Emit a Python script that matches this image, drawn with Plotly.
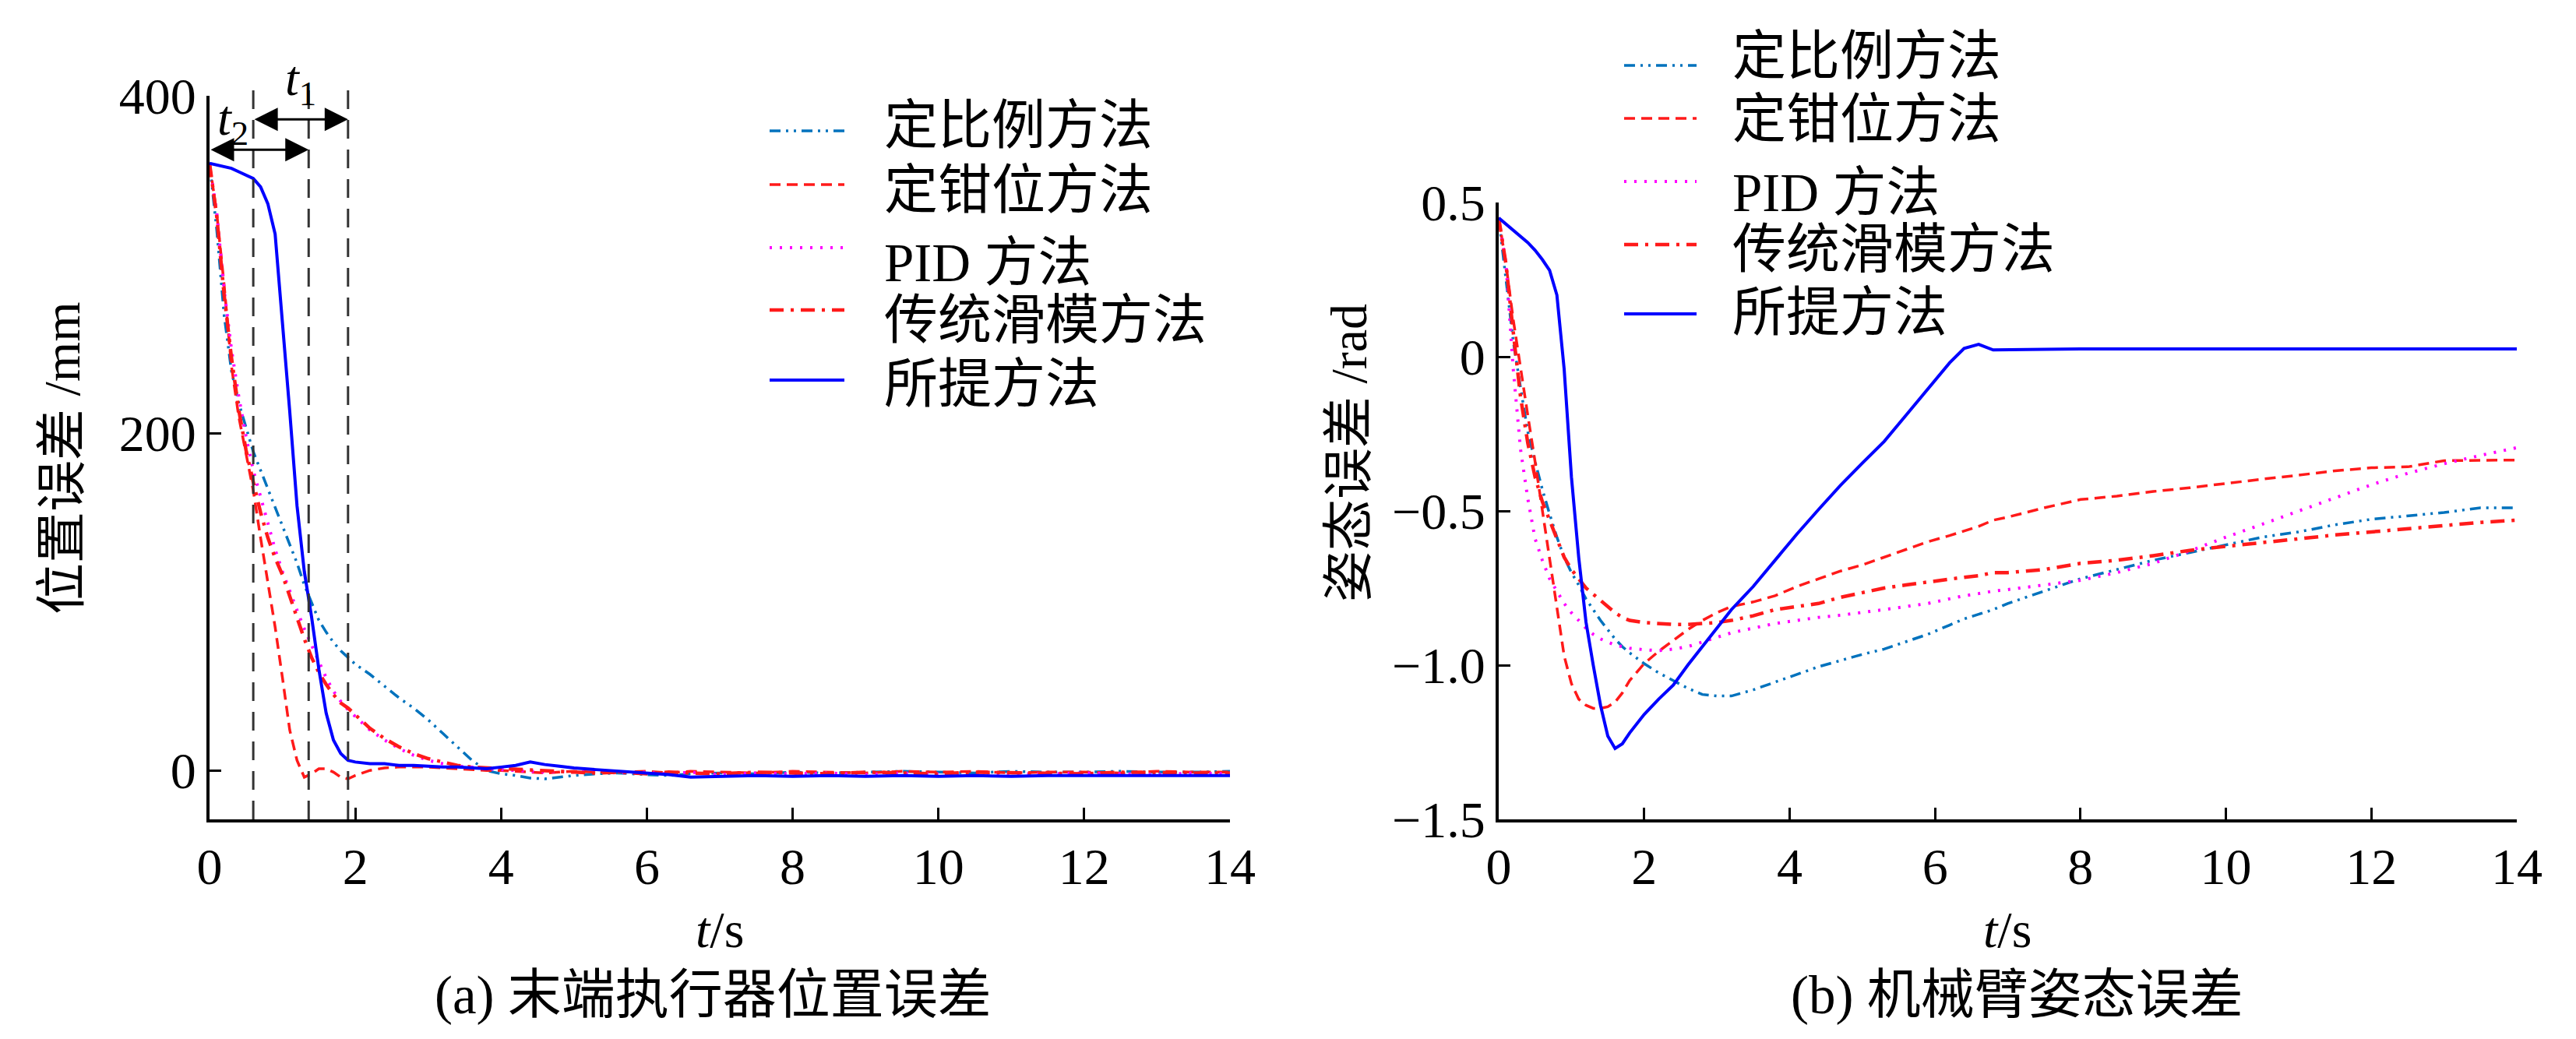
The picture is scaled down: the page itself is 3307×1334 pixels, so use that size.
import plotly.graph_objects as go

# ---- data ----
methods = ["定比例方法", "定钳位方法", "PID 方法", "传统滑模方法", "所提方法"]

# (a) end-effector position error, mm
pos_t = [0, 0.1, 0.2, 0.3, 0.4, 0.5, 0.6, 0.7, 0.8, 0.9, 1.0, 1.1, 1.2, 1.3, 1.4,
         1.5, 1.6, 1.7, 1.8, 1.9, 2.0, 2.2, 2.4, 2.6, 2.8, 3.0, 3.2, 3.4, 3.6, 3.8,
         4.0, 4.2, 4.4, 4.6, 4.8, 5.0, 5.3, 5.6, 6.0, 6.3, 6.6, 7.0, 7.5, 8.0, 8.5,
         9.0, 9.5, 10.0, 10.5, 11.0, 11.5, 12.0, 12.5, 13.0, 13.5, 14.0]
pos_ratio = [360, 320, 270, 237, 218, 203, 189, 178, 167, 156, 146, 135, 123, 110, 99,
             89, 82, 76, 71, 67, 63, 57, 50, 43, 37, 30, 22, 14, 6, 0,
             -2, -3, -4.5, -5, -4, -3, -2, -1.5, -2.5, -3, -2, -1.5, -2, -1, -1.5,
             -1, -0.5, -1, -1.5, -0.5, -1, -1, -0.5, -1, -1, -0.5]
pos_clamp = [360, 330, 288, 240, 210, 188, 166, 138, 111, 85, 55, 24, 6, -4, -2,
             1, 1, -1, -4, -5, -3, 0, 1.5, 2, 2, 2, 1.5, 1, 0.5, 0,
             0, -0.5, -1, -1.5, -1, -0.5, -1, -1, -0.5, -1.5, -0.5, -1, -1.5, -0.5, -1,
             -1.5, -0.5, -1, -0.5, -1.5, -1, -1, -1.5, -0.5, -1, -1]
pos_pid = [360, 330, 285, 250, 222, 198, 178, 162, 146, 131, 118, 106, 95, 84, 74,
           64, 55, 47, 41, 36, 32, 24, 18, 13, 9, 6, 4, 2.5, 2, 1,
           0.5, 0, -0.5, -1, -0.5, -1, -0.5, -1.5, -1, -2, -1, -2.5, -1.5, -2, -1.5,
           -2.5, -1.5, -2, -1.5, -2, -2, -1.5, -2, -2.5, -1.5, -2]
pos_smc = [360, 328, 282, 245, 214, 190, 171, 153, 138, 126, 116, 103, 90, 78, 67,
           58, 51, 45, 40, 37, 33, 25, 19, 14, 10, 7, 5, 3, 2, 1.5,
           1, 0.5, 0, -0.5, -1, -1, -1.5, -1, -2, -1, -1.5, -2, -1, -1.5, -2,
           -1, -1.5, -2, -1, -1.5, -1.5, -2, -1, -1.5, -1.5, -1.5]
pos_prop = [360, 359, 358, 357, 355, 353, 351, 346, 336, 318, 268, 213, 157, 118, 91,
            60, 34, 18, 10, 6, 5, 4, 4, 3, 3, 2.5, 2, 2, 1.5, 1,
            2, 3, 5, 3.5, 2.5, 1.5, 0.5, -0.5, -1.5, -2.5, -4, -3.5, -3, -3.5, -3,
            -3.5, -3, -3.5, -3, -3.5, -3, -3, -3, -3, -3, -3]

# t1 / t2 marker times (s)
marker_t = [0.60, 1.36, 1.90]

# (b) arm attitude error, rad
att_t = [0, 0.1, 0.2, 0.3, 0.4, 0.5, 0.6, 0.7, 0.8, 0.9, 1.0, 1.1, 1.2, 1.3, 1.4,
         1.5, 1.6, 1.7, 1.8, 2.0, 2.2, 2.4, 2.6, 2.8, 3.0, 3.2, 3.5, 3.8, 4.1, 4.4,
         4.7, 5.0, 5.3, 5.6, 5.9, 6.2, 6.4, 6.6, 6.8, 7.0, 7.5, 8.0, 8.5, 9.0, 9.5,
         10.0, 10.5, 11.0, 11.5, 12.0, 12.5, 13.0, 13.5, 14.0]
att_ratio = [0.45, 0.25, 0.05, -0.10, -0.243, -0.34, -0.43, -0.51, -0.585, -0.65, -0.70,
             -0.74, -0.785, -0.82, -0.855, -0.885, -0.915, -0.94, -0.96, -0.995, -1.025,
             -1.05, -1.075, -1.095, -1.10, -1.10, -1.08, -1.055, -1.03, -1.005, -0.985,
             -0.965, -0.948, -0.925, -0.90, -0.87, -0.85, -0.835, -0.82, -0.80, -0.76,
             -0.72, -0.69, -0.66, -0.635, -0.61, -0.585, -0.568, -0.545, -0.527, -0.515,
             -0.505, -0.49, -0.49]
att_clamp = [0.45, 0.30, 0.12, -0.04, -0.19, -0.34, -0.50, -0.66, -0.82, -0.97, -1.06,
             -1.11, -1.13, -1.14, -1.14, -1.135, -1.12, -1.09, -1.05, -0.995, -0.955,
             -0.92, -0.885, -0.855, -0.83, -0.81, -0.795, -0.775, -0.745, -0.72, -0.695,
             -0.675, -0.65, -0.625, -0.60, -0.58, -0.565, -0.55, -0.53, -0.52, -0.49,
             -0.463, -0.452, -0.437, -0.425, -0.41, -0.397, -0.384, -0.37, -0.36, -0.357,
             -0.337, -0.335, -0.335]
att_pid = [0.45, 0.30, -0.04, -0.30, -0.46, -0.59, -0.66, -0.72, -0.76, -0.80, -0.83,
           -0.855, -0.88, -0.90, -0.915, -0.925, -0.935, -0.94, -0.945, -0.95, -0.953,
           -0.948, -0.94, -0.925, -0.91, -0.895, -0.88, -0.865, -0.855, -0.845, -0.838,
           -0.83, -0.82, -0.81, -0.80, -0.785, -0.775, -0.768, -0.76, -0.755, -0.74,
           -0.725, -0.70, -0.67, -0.63, -0.585, -0.543, -0.50, -0.456, -0.415, -0.378,
           -0.347, -0.32, -0.295]
att_smc = [0.45, 0.30, 0.08, -0.13, -0.28, -0.39, -0.47, -0.53, -0.59, -0.65, -0.69,
           -0.72, -0.75, -0.77, -0.79, -0.81, -0.83, -0.845, -0.855, -0.862, -0.866,
           -0.868, -0.868, -0.866, -0.862, -0.855, -0.84, -0.82, -0.81, -0.80, -0.78,
           -0.765, -0.75, -0.74, -0.73, -0.72, -0.715, -0.71, -0.70, -0.70, -0.69,
           -0.67, -0.66, -0.645, -0.628, -0.615, -0.602, -0.59, -0.578, -0.568, -0.558,
           -0.547, -0.537, -0.53]
att_prop = [0.45, 0.43, 0.41, 0.39, 0.37, 0.345, 0.315, 0.28, 0.20, -0.04, -0.39,
            -0.65, -0.86, -1.00, -1.13, -1.23, -1.27, -1.255, -1.22, -1.16, -1.11,
            -1.065, -1.00, -0.94, -0.88, -0.82, -0.745, -0.66, -0.575, -0.495, -0.417,
            -0.345, -0.275, -0.19, -0.105, -0.02, 0.027, 0.04, 0.022, 0.022, 0.024,
            0.025, 0.025, 0.025, 0.025, 0.025, 0.025, 0.025, 0.025, 0.025, 0.025,
            0.025, 0.025, 0.025]

# ---- styles ----
FONT = "Liberation Serif, Noto Sans CJK SC"
styles = [
    dict(color="#0072BD", width=3.5, dash="14px,7px,3px,7px,3px,7px"),
    dict(color="#FF1A1A", width=3.5, dash="14px,8px"),
    dict(color="#FF00FF", width=4, dash="3px,10px"),
    dict(color="#FF1A1A", width=4.5, dash="18px,9px,4px,9px"),
    dict(color="#0000FF", width=4, dash="solid"),
]

pos_series = [pos_ratio, pos_clamp, pos_pid, pos_smc, pos_prop]
att_series = [att_ratio, att_clamp, att_pid, att_smc, att_prop]

fig = go.Figure()
for name, st, ys in zip(methods, styles, pos_series):
    fig.add_trace(go.Scatter(x=pos_t, y=ys, mode="lines", name=name, line=st,
                             xaxis="x", yaxis="y", showlegend=False))
for name, st, ys in zip(methods, styles, att_series):
    fig.add_trace(go.Scatter(x=att_t, y=ys, mode="lines", name=name, line=st,
                             xaxis="x2", yaxis="y2", showlegend=False))

W, H = 3307, 1334
def px_x(p):
    return p / W
def px_y(p):
    return 1 - p / H

axis_common = dict(showline=True, linewidth=4, linecolor="black", ticks="inside",
                   ticklen=15, tickwidth=3, tickcolor="black", showgrid=False,
                   zeroline=False, automargin=False,
                   tickfont=dict(family=FONT, size=66, color="black"))

fig.update_layout(
    width=W, height=H, autosize=False,
    margin=dict(l=0, r=0, t=0, b=0, pad=0),
    paper_bgcolor="white", plot_bgcolor="white",
    font=dict(family=FONT, color="black"),
    xaxis=dict(domain=[px_x(261), px_x(1571)], range=[0, 14], tickvals=list(range(0, 15, 2)),
               anchor="y", **axis_common),
    yaxis=dict(domain=[px_y(1044), px_y(115)], range=[-29, 400], tickvals=[0, 200, 400],
               anchor="x", **axis_common),
    xaxis2=dict(domain=[px_x(1916), px_x(3223)], range=[0, 14], tickvals=list(range(0, 15, 2)),
                anchor="y2", **axis_common),
    yaxis2=dict(domain=[px_y(1044), px_y(252)], range=[-1.5, 0.5],
                tickvals=[0.5, 0, -0.5, -1.0, -1.5],
                ticktext=["0.5", "0", "\u22120.5", "\u22121.0", "\u22121.5"],
                anchor="x2", **axis_common),
)

# vertical dashed markers
for t in marker_t:
    fig.add_shape(type="line", xref="x", yref="paper", x0=t, x1=t,
                  y0=px_y(1044), y1=px_y(103),
                  line=dict(color="#333333", width=3, dash="24px,14px"))

# double arrows for t2 and t1
arrows = [(0, marker_t[1], 368), (marker_t[0], marker_t[2], 386)]
for xa, xb, yy in arrows:
    fig.add_annotation(x=xb, y=yy, ax=xa, ay=yy, xref="x", yref="y", axref="x", ayref="y",
                       text="", showarrow=True, arrowhead=2, startarrowhead=2,
                       arrowside="end+start", arrowsize=2.0, startarrowsize=2.0,
                       arrowwidth=3, arrowcolor="black", standoff=0, startstandoff=0)
fig.add_annotation(x=1.25, y=px_y(97), xref="x", yref="paper", showarrow=False,
                   xanchor="center", yanchor="middle",
                   text="<i>t</i><sub>1</sub>", font=dict(family=FONT, size=64))
fig.add_annotation(x=0.32, y=px_y(148), xref="x", yref="paper", showarrow=False,
                   xanchor="center", yanchor="middle",
                   text="<i>t</i><sub>2</sub>", font=dict(family=FONT, size=64))

# axis titles and captions
def label(x, y, text, size=66, **kw):
    fig.add_annotation(x=px_x(x), y=px_y(y), xref="paper", yref="paper", showarrow=False,
                       xanchor=kw.pop("xanchor", "center"), yanchor="middle", text=text,
                       font=dict(family=FONT, size=size, color="black"), **kw)

label(72, 580, "位置误差 /mm", textangle=-90)
label(1723, 574, "姿态误差 /rad", textangle=-90)
label(916, 1185, "<i>t</i>/s")
label(2569, 1185, "<i>t</i>/s")
label(907, 1270, "(a) 末端执行器位置误差", size=69)
label(2581, 1270, "(b) 机械臂姿态误差", size=69)

# legends drawn as line samples + labels
legend_boxes = [
    dict(x0=980, x1=1076, tx=1125, line_y=[160, 229, 310, 390, 480], text_y=[154, 237, 330, 404, 486]),
    dict(x0=2077, x1=2170, tx=2214, line_y=[76, 144, 225, 306, 395], text_y=[65, 146, 240, 313, 394]),
]
for box in legend_boxes:
    for name, st, ly, ty in zip(methods, styles, box["line_y"], box["text_y"]):
        fig.add_shape(type="line", xref="paper", yref="paper",
                      x0=px_x(box["x0"]), x1=px_x(box["x1"]), y0=px_y(ly), y1=px_y(ly),
                      line=st)
        label(box["tx"], ty, name, size=69, xanchor="left")

fig.write_html("out.html")
